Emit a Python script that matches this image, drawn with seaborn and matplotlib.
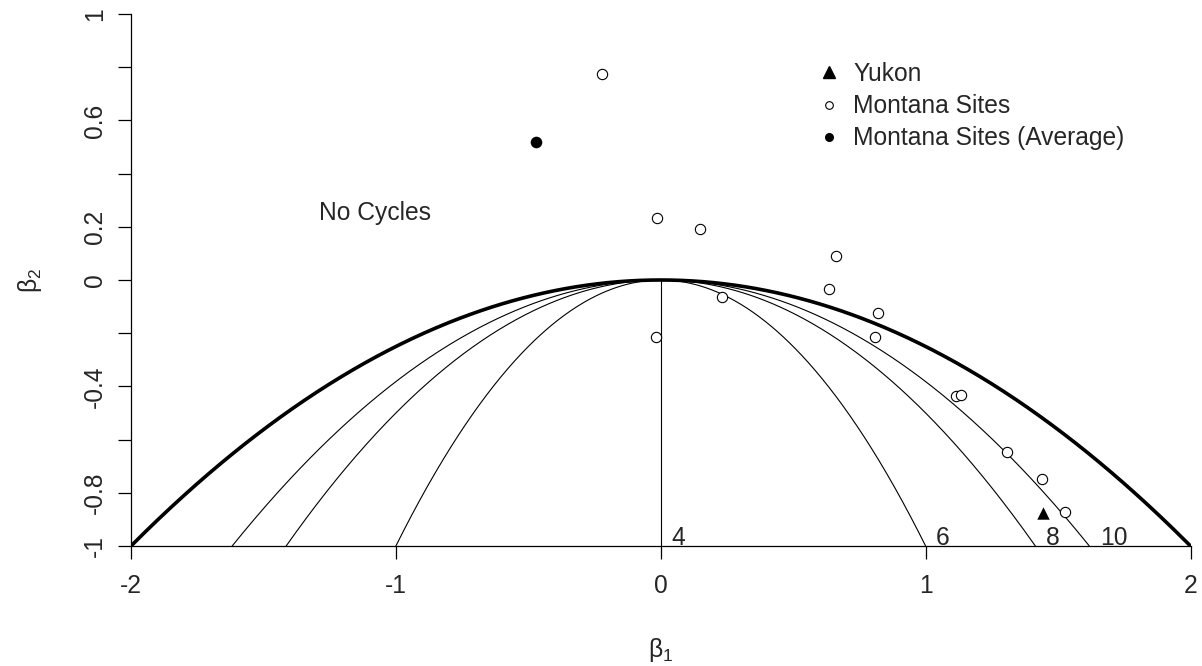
import numpy as np
import matplotlib
matplotlib.use("Agg")
import matplotlib.pyplot as plt
from matplotlib.lines import Line2D
import seaborn as sns

# ---- data ----
montana_b1 = [-0.220, -0.016, 0.150, 0.660, 0.635, 0.233, 0.821, -0.019, 0.808,
              1.114, 1.133, 1.306, 1.438, 1.526]
montana_b2 = [0.776, 0.234, 0.192, 0.090, -0.034, -0.065, -0.124, -0.213, -0.213,
              -0.436, -0.432, -0.648, -0.748, -0.873]
yukon_b1 = [1.442]
yukon_b2 = [-0.875]
avg_b1 = [-0.470]
avg_b2 = [0.520]
periods = [4, 6, 8, 10]
period_labels = ["4", "6", "8", "10"]
legend_labels = ["Yukon", "Montana Sites", "Montana Sites (Average)"]
region_label = "No Cycles"
xticks = [-2, -1, 0, 1, 2]
xtick_labels = ["-2", "-1", "0", "1", "2"]
yticks = [-1, -0.8, -0.6, -0.4, -0.2, 0, 0.2, 0.4, 0.6, 0.8, 1]
ytick_labels = ["-1", "-0.8", "", "-0.4", "", "0", "0.2", "", "0.6", "", "1"]

sns.set_style("ticks")
plt.rcParams["font.family"] = ["Liberation Sans", "DejaVu Sans"]
plt.rcParams["mathtext.fontset"] = "custom"
plt.rcParams["mathtext.rm"] = "Liberation Sans"
plt.rcParams["mathtext.it"] = "Liberation Sans"
plt.rcParams["axes.unicode_minus"] = False

FS = 17.7
fig = plt.figure(figsize=(12.02, 6.66), dpi=100)
W, H = 1202, 666
ax = fig.add_axes([131 / W, 1 - 546 / H, (1190.5 - 131) / W, (546 - 14) / H])

# boundary of real/complex roots (thick) and period contours (thin)
b1 = np.linspace(-2, 2, 801)
sns.lineplot(x=b1, y=-b1 ** 2 / 4, sort=False, estimator=None, color="black",
             linewidth=2.6, ax=ax)
for k in periods:
    c = np.cos(2 * np.pi / k)
    if abs(c) < 1e-9:
        sns.lineplot(x=[0, 0], y=[0, -1], sort=False, estimator=None,
                     color="black", linewidth=0.8, ax=ax)
    else:
        lim = 2 * c
        xx = np.linspace(-lim, lim, 601)
        sns.lineplot(x=xx, y=-xx ** 2 / (4 * c ** 2), sort=False, estimator=None,
                     color="black", linewidth=0.8, ax=ax)

for k, lab in zip(periods, period_labels):
    ax.text(2 * np.cos(2 * np.pi / k) + 0.04, -0.995, lab, fontsize=FS,
            ha="left", va="baseline")

ax.text(-1.08, 0.252, region_label, fontsize=FS, ha="center", va="center")

# points
sns.scatterplot(x=montana_b1, y=montana_b2, marker="o", s=55, facecolor="white",
                edgecolor="black", linewidth=0.8, ax=ax, zorder=5)
sns.scatterplot(x=yukon_b1, y=yukon_b2, marker="^", s=80, color="black",
                edgecolor="black", linewidth=0, ax=ax, zorder=5)
sns.scatterplot(x=avg_b1, y=avg_b2, marker="o", s=70, color="black",
                edgecolor="black", linewidth=0, ax=ax, zorder=5)

ax.set_xlim(-2, 2)
ax.set_ylim(-1, 1)
ax.set_xticks(xticks)
ax.set_xticklabels(xtick_labels, fontsize=FS)
ax.set_yticks(yticks)
ax.set_yticklabels(ytick_labels, fontsize=FS, rotation=90, va="center")
ax.tick_params(axis="both", direction="out", length=9.5, width=0.9, color="black")
ax.tick_params(axis="x", pad=11)
ax.tick_params(axis="y", pad=8)
for s in ["top", "right"]:
    ax.spines[s].set_visible(False)
for s in ["left", "bottom"]:
    ax.spines[s].set_linewidth(0.9)
    ax.spines[s].set_color("black")

ax.set_xlabel(r"$\mathrm{\beta_1}$", fontsize=FS)
ax.set_ylabel(r"$\mathrm{\beta_2}$", fontsize=FS)
ax.xaxis.set_label_coords(0.5, ((666 - 650) / H - (1 - 546 / H)) / ((546 - 14) / H))
ax.xaxis.label.set_va("center")
ax.yaxis.set_label_coords((30 - 131) / (1190.5 - 131), 0.5)
ax.yaxis.label.set_va("center")
ax.yaxis.label.set_ha("center")

handles = [
    Line2D([], [], linestyle="none", marker="^", markersize=8, color="black"),
    Line2D([], [], linestyle="none", marker="o", markersize=5.5,
           markerfacecolor="white", markeredgecolor="black", markeredgewidth=0.8),
    Line2D([], [], linestyle="none", marker="o", markersize=5.5, color="black"),
]
ax.legend(handles, legend_labels, loc="upper left", frameon=False,
          bbox_to_anchor=(816.7 / W, 1 - 62 / H), bbox_transform=fig.transFigure,
          fontsize=FS, handlelength=1.0, handletextpad=0.48, labelspacing=0.33,
          borderpad=0, borderaxespad=0)

fig.savefig("out.png", dpi=100)
